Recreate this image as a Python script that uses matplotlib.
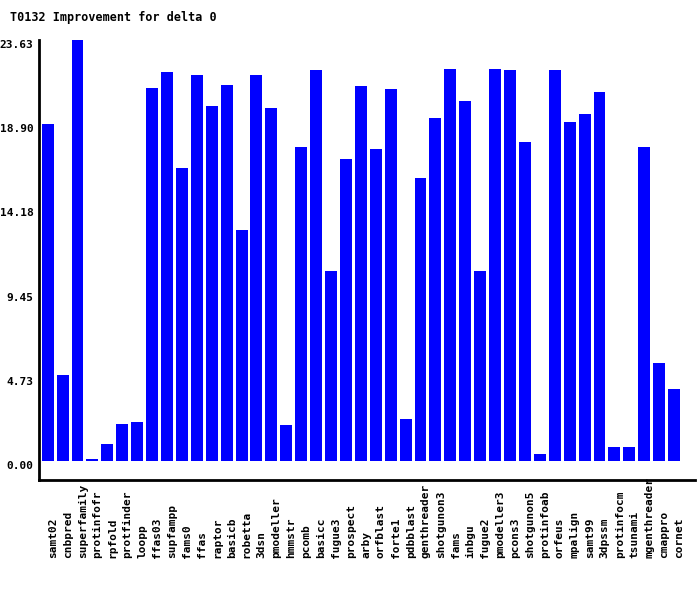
import matplotlib
matplotlib.use("Agg")
import matplotlib.pyplot as plt
import matplotlib.transforms as mtransforms

TITULO = "T0132 Improvement for delta 0"

metodos = ["samt02", "cnbpred", "superfamily", "protinfofr", "rpfold", "protfinder",
           "loopp", "ffas03", "supfampp", "fams0", "ffas", "raptor", "basicb",
           "robetta", "3dsn", "pmodeller", "hmmstr", "pcomb", "basicc", "fugue3",
           "prospect", "arby", "orfblast", "forte1", "pdbblast", "genthreader",
           "shotgunon3", "fams", "inbgu", "fugue2", "pmodeller3", "pcons3",
           "shotgunon5", "protinfoab", "orfeus", "mpalign", "samt99", "3dpssm",
           "protinfocm", "tsunami", "mgenthreader", "cmappro", "cornet"]

mejora = [18.91, 4.83, 23.63, 0.10, 0.95, 2.08, 2.19, 20.93, 21.83, 16.44,
          21.66, 19.92, 21.10, 12.96, 21.66, 19.81, 2.02, 17.62, 21.94, 10.66,
          16.95, 21.04, 17.51, 20.88, 2.36, 15.88, 19.25, 22.00, 20.20, 10.66,
          22.00, 21.94, 17.90, 0.39, 21.94, 19.02, 19.47, 20.71, 0.79, 0.79,
          17.62, 5.50, 4.04]

marcas_y = [0.0, 4.726, 9.452, 14.178, 18.904, 23.63]
etiquetas_y = ["0.00", "4.73", "9.45", "14.18", "18.90", "23.63"]

fuente = dict(family="DejaVu Sans Mono", fontweight="bold")

fig = plt.figure(figsize=(7, 5.9), dpi=100)
ax = fig.add_axes([0.0557, 0.1864, 0.9373, 0.7456])

x = range(len(metodos))
ax.bar(x, mejora, width=0.8, color="#0000ff")

ax.set_xlim(-0.58, 43.41)
ax.set_ylim(-1.07, 23.63)

for lado in ["top", "right"]:
    ax.spines[lado].set_visible(False)
for lado in ["left", "bottom"]:
    ax.spines[lado].set_linewidth(2)
    ax.spines[lado].set_color("black")

ax.set_xticks([])
ax.set_yticks(marcas_y)
ax.set_yticklabels(etiquetas_y, fontsize=8, va="top", **fuente)
ax.tick_params(axis="y", length=0, pad=4)

# etiquetas del eje x: giradas, ancladas abajo
trans = mtransforms.blended_transform_factory(ax.transData, fig.transFigure)
for i, nombre in enumerate(metodos):
    ax.text(i + 0.35, 1 - 558 / 590, nombre, rotation=90, ha="center", va="bottom",
            fontsize=8, transform=trans, clip_on=False, **fuente)

fig.text(10 / 700, 1 - 17 / 590, TITULO, fontsize=8.5, ha="left", va="center", **fuente)

plt.savefig("out.png", dpi=100)
